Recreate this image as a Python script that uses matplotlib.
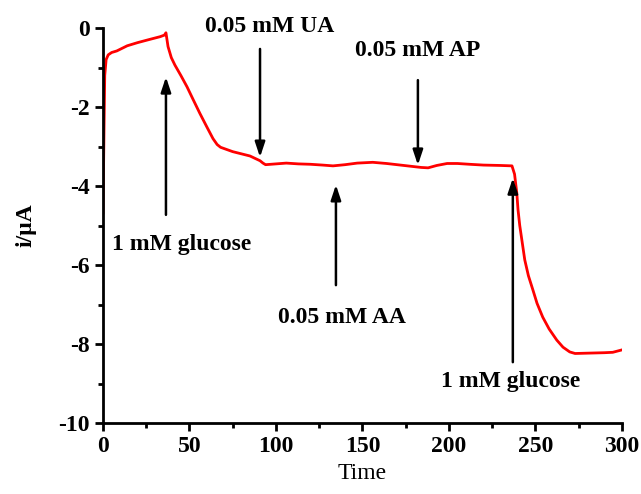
import matplotlib.pyplot as plt
from matplotlib.ticker import MultipleLocator

plt.rcParams['font.family'] = 'Liberation Serif'
plt.rcParams['axes.unicode_minus'] = False

time = [0, 0.6, 1.0, 1.8, 3, 5, 8, 14, 20, 26, 33, 35.5, 36.4, 37.6, 39.5, 41.6,
        45, 48.6, 52, 56, 60, 63.6, 66, 68, 75, 85, 90.8, 92.5, 94, 100, 106,
        113, 120, 127, 133, 140, 147, 156, 164, 172, 180, 184, 188, 193, 199,
        205, 212, 220, 230, 236.5, 238, 239.3, 240, 241, 242.5, 243.9, 246,
        248.6, 251, 254.3, 258, 262.4, 266, 269.9, 273, 281.5, 290, 294.8, 300]
current = [-4.68, -2.5, -1.2, -0.8, -0.68, -0.62, -0.58, -0.45, -0.37, -0.30,
           -0.22, -0.18, -0.12, -0.47, -0.75, -0.94, -1.2, -1.49, -1.8, -2.16,
           -2.5, -2.8, -2.95, -3.02, -3.13, -3.24, -3.36, -3.42, -3.46, -3.44,
           -3.42, -3.44, -3.45, -3.47, -3.49, -3.46, -3.42, -3.40, -3.43, -3.47,
           -3.51, -3.53, -3.54, -3.48, -3.43, -3.43, -3.45, -3.47, -3.48, -3.49,
           -3.7, -4.18, -4.6, -5.0, -5.45, -5.87, -6.27, -6.63, -6.97, -7.32,
           -7.62, -7.90, -8.08, -8.2, -8.24, -8.23, -8.22, -8.21, -8.15]

# injections: label, arrow x, tail y, tip y, label x, label y
labels = ["1 mM glucose", "0.05 mM UA", "0.05 mM AA", "0.05 mM AP", "1 mM glucose"]
arrow_x = [36.4, 90.8, 134.7, 182.1, 237]
arrow_tail = [-4.73, -0.53, -6.51, -1.32, -8.46]
arrow_tip = [-1.24, -3.27, -3.97, -3.47, -3.80]
label_x = [45.7, 96.5, 138, 182, 235.8]
label_y = [-5.49, 0.03, -7.34, -0.56, -8.96]

fig = plt.figure(figsize=(6.41, 4.94), dpi=100)
ax = fig.add_axes([0.1607, 0.1437, 0.8093, 0.7996])

ax.plot(time, current, color='red', lw=2)

for lab, x, y0, y1, tx, ty in zip(labels, arrow_x, arrow_tail, arrow_tip, label_x, label_y):
    ax.annotate("", xy=(x, y1), xytext=(x, y0),
                arrowprops=dict(arrowstyle="-|>,head_length=0.9,head_width=0.3",
                                color='black', lw=1.8, shrinkA=0, shrinkB=0))
    ax.text(tx, ty, lab, ha='center', va='center', fontsize=17,
            fontweight='bold', clip_on=False)

ax.set_xlim(0, 300)
ax.set_ylim(-10, 0)
ax.xaxis.set_major_locator(MultipleLocator(50))
ax.xaxis.set_minor_locator(MultipleLocator(25))
ax.yaxis.set_major_locator(MultipleLocator(2))
ax.yaxis.set_minor_locator(MultipleLocator(1))

ax.spines['top'].set_visible(False)
ax.spines['right'].set_visible(False)
for s in ['left', 'bottom']:
    ax.spines[s].set_linewidth(2)

ax.tick_params(which='major', direction='out', length=6, width=2, labelsize=17)
ax.tick_params(which='minor', direction='out', length=3.5, width=2)
for t in ax.get_xticklabels() + ax.get_yticklabels():
    t.set_fontweight('bold')

ax.set_xlabel("Time", fontsize=17, labelpad=4)
ax.set_ylabel("i/\u03bcA", fontsize=17, fontweight='bold', labelpad=16)

fig.savefig("out.png", dpi=100)
